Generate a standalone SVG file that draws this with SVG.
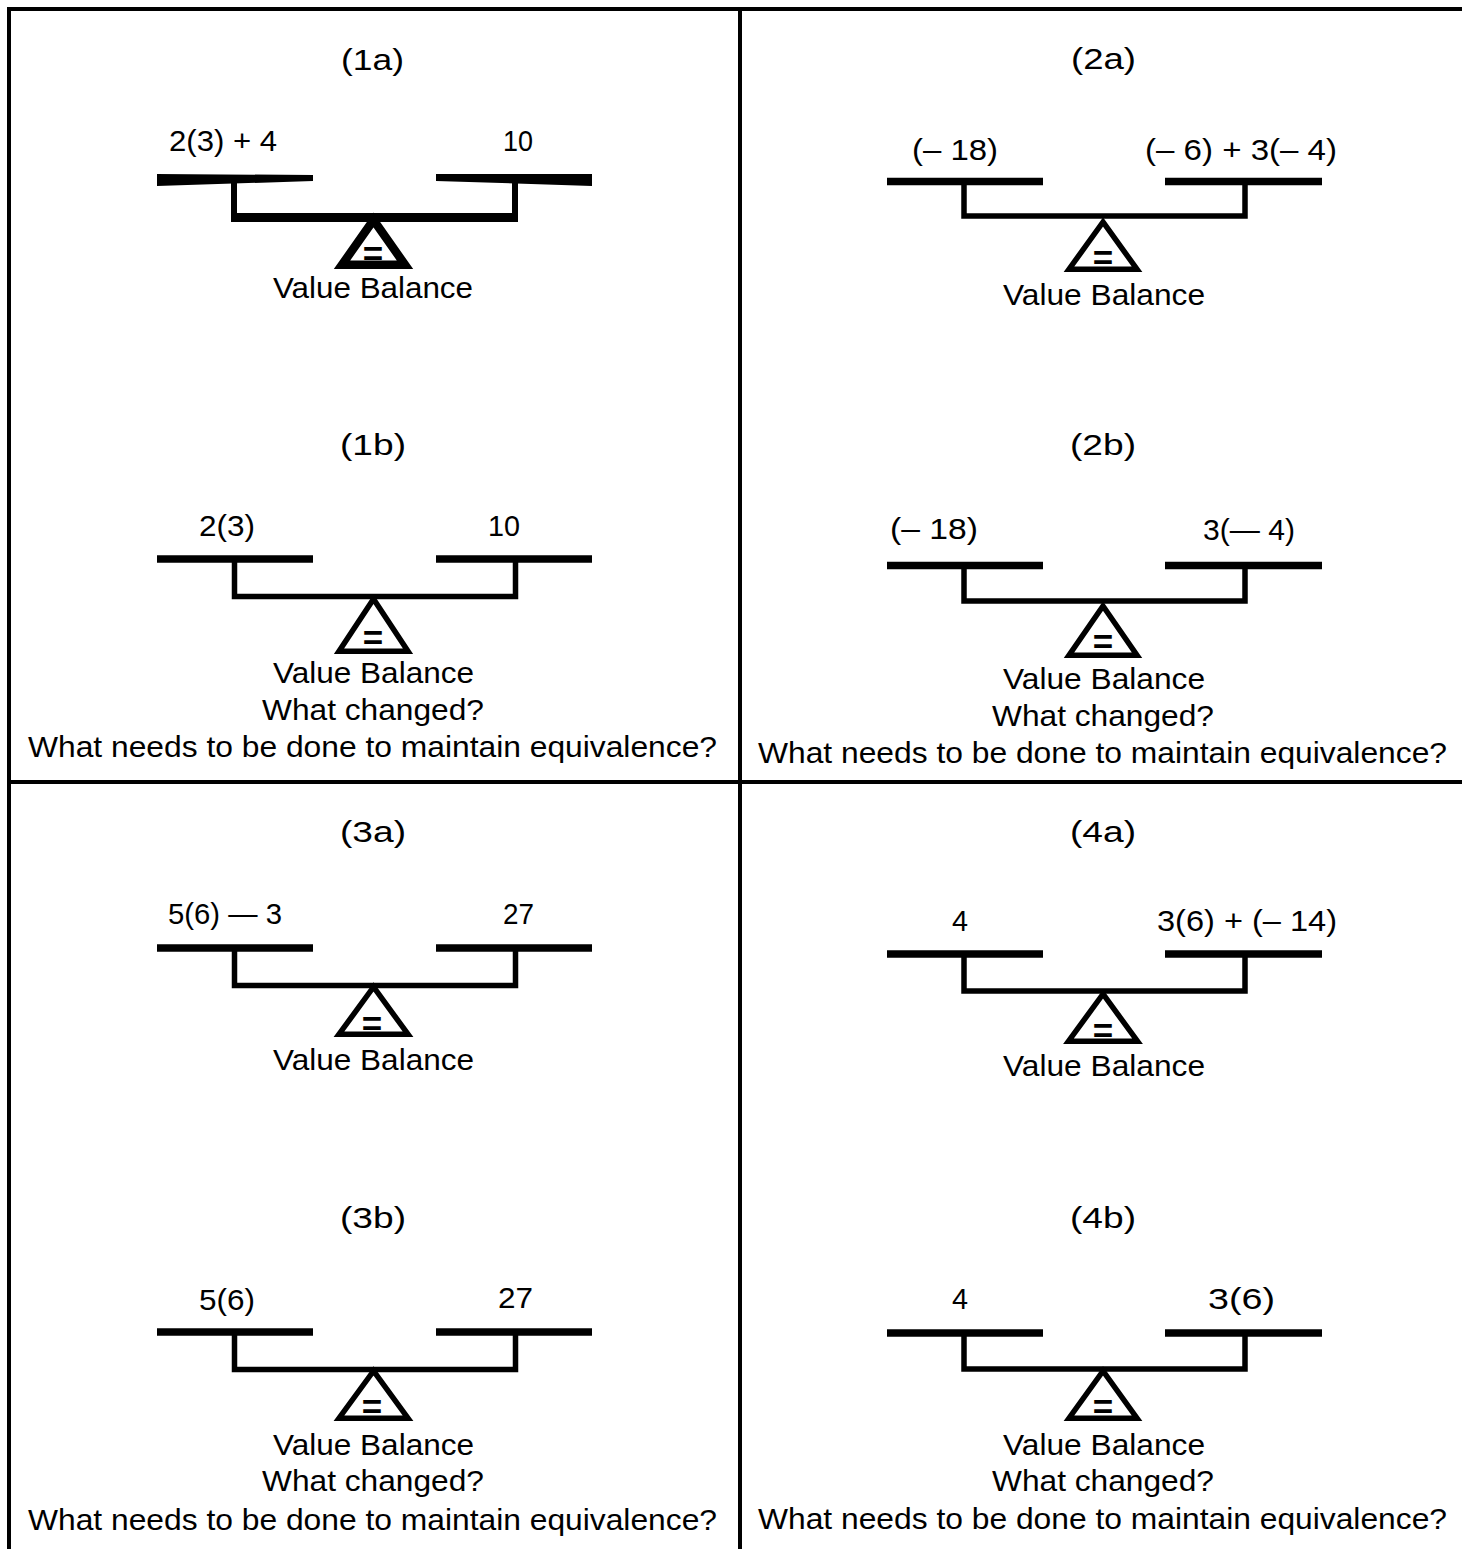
<svg xmlns="http://www.w3.org/2000/svg" width="1462" height="1549" viewBox="0 0 1462 1549">
<style>
text{font-family:"Liberation Sans",Arial,sans-serif;font-size:30px;fill:#000}
.eq{font-weight:bold;font-size:35px;text-anchor:middle}
.pan{stroke:#000;stroke-width:7.5;fill:none}
.arm{stroke:#000;stroke-width:5.5;fill:none;stroke-linejoin:miter}
.tri{stroke:#000;stroke-width:5.5;fill:#fff;stroke-linejoin:miter;stroke-miterlimit:10}
.grid{stroke:#000;stroke-width:4;fill:none}
</style>
<rect width="1462" height="1549" fill="#fff"/>
<g id="grid">
<path class="grid" d="M9 1549 V9 H1462"/>
<path class="grid" d="M740 9 V1549"/>
<path class="grid" d="M9 782 H1462"/>
</g>
<g id="connectors"></g>

<g id="node-1a">
<text x="341" y="70" textLength="63" lengthAdjust="spacingAndGlyphs">(1a)</text>
<text x="169" y="151" textLength="108" lengthAdjust="spacingAndGlyphs">2(3) + 4</text>
<text x="503" y="151" textLength="30" lengthAdjust="spacingAndGlyphs">10</text>
<polygon points="157,174 313,175 313,181 157,186" fill="#000"/>
<polygon points="436,174 592,174 592,186 436,181" fill="#000"/>
<rect x="231" y="178" width="6" height="44" fill="#000"/>
<rect x="512" y="178" width="6" height="44" fill="#000"/>
<rect x="231" y="213" width="287" height="9" fill="#000"/>
<polygon points="373.5,220 342,264.75 405,264.75" fill="#fff" stroke="#000" stroke-width="8.5" stroke-miterlimit="10"/>
<text class="eq" x="373" y="266">=</text>
<text x="273" y="298" textLength="200" lengthAdjust="spacingAndGlyphs">Value Balance</text>
</g>

<g id="node-1b">
<text x="340" y="455" textLength="66" lengthAdjust="spacingAndGlyphs">(1b)</text>
<text x="199" y="536" textLength="56" lengthAdjust="spacingAndGlyphs">2(3)</text>
<text x="488" y="536" textLength="32" lengthAdjust="spacingAndGlyphs">10</text>
<line class="pan" x1="157" y1="559" x2="313" y2="559"/>
<line class="pan" x1="436" y1="559" x2="592" y2="559"/>
<path class="arm" d="M234.5 559 V596.5 H515.5 V559"/>
<polygon class="tri" points="373.5,599 339,651.25 408,651.25"/>
<text class="eq" x="373" y="650">=</text>
<text x="273" y="683" textLength="201" lengthAdjust="spacingAndGlyphs">Value Balance</text>
<text x="262" y="720" textLength="222" lengthAdjust="spacingAndGlyphs">What changed?</text>
<text x="28" y="757" textLength="689" lengthAdjust="spacingAndGlyphs">What needs to be done to maintain equivalence?</text>
</g>

<g id="node-2a">
<text x="1071" y="69" textLength="65" lengthAdjust="spacingAndGlyphs">(2a)</text>
<text x="912" y="160" textLength="86" lengthAdjust="spacingAndGlyphs">(– 18)</text>
<text x="1145" y="160" textLength="192" lengthAdjust="spacingAndGlyphs">(– 6) + 3(– 4)</text>
<line class="pan" x1="887" y1="181.5" x2="1043" y2="181.5"/>
<line class="pan" x1="1165" y1="181.5" x2="1322" y2="181.5"/>
<path class="arm" d="M964 181.5 V216 H1245 V181.5"/>
<polygon class="tri" points="1103,222 1069,269.25 1137,269.25"/>
<text class="eq" x="1103" y="270">=</text>
<text x="1003" y="305" textLength="202" lengthAdjust="spacingAndGlyphs">Value Balance</text>
</g>

<g id="node-2b">
<text x="1070" y="455" textLength="66" lengthAdjust="spacingAndGlyphs">(2b)</text>
<text x="890" y="539" textLength="88" lengthAdjust="spacingAndGlyphs">(– 18)</text>
<text x="1203" y="540" textLength="92" lengthAdjust="spacingAndGlyphs">3(— 4)</text>
<line class="pan" x1="887" y1="565.5" x2="1043" y2="565.5"/>
<line class="pan" x1="1165" y1="565.5" x2="1322" y2="565.5"/>
<path class="arm" d="M964 565.5 V601 H1245 V565.5"/>
<polygon class="tri" points="1103,606 1069,655.25 1137,655.25"/>
<text class="eq" x="1103" y="654">=</text>
<text x="1003" y="689" textLength="202" lengthAdjust="spacingAndGlyphs">Value Balance</text>
<text x="992" y="726" textLength="222" lengthAdjust="spacingAndGlyphs">What changed?</text>
<text x="758" y="763" textLength="689" lengthAdjust="spacingAndGlyphs">What needs to be done to maintain equivalence?</text>
</g>

<g id="node-3a">
<text x="340" y="842" textLength="66" lengthAdjust="spacingAndGlyphs">(3a)</text>
<text x="168" y="924" textLength="114" lengthAdjust="spacingAndGlyphs">5(6) — 3</text>
<text x="503" y="924" textLength="31" lengthAdjust="spacingAndGlyphs">27</text>
<line class="pan" x1="157" y1="948" x2="313" y2="948"/>
<line class="pan" x1="436" y1="948" x2="592" y2="948"/>
<path class="arm" d="M234.5 948 V985.5 H515.5 V948"/>
<polygon class="tri" points="373.5,987 339,1034.25 408,1034.25"/>
<text class="eq" x="372" y="1036">=</text>
<text x="273" y="1070" textLength="201" lengthAdjust="spacingAndGlyphs">Value Balance</text>
</g>

<g id="node-3b">
<text x="340" y="1228" textLength="66" lengthAdjust="spacingAndGlyphs">(3b)</text>
<text x="199" y="1310" textLength="56" lengthAdjust="spacingAndGlyphs">5(6)</text>
<text x="498" y="1308" textLength="35" lengthAdjust="spacingAndGlyphs">27</text>
<line class="pan" x1="157" y1="1332" x2="313" y2="1332"/>
<line class="pan" x1="436" y1="1332" x2="592" y2="1332"/>
<path class="arm" d="M234.5 1332 V1369.5 H515.5 V1332"/>
<polygon class="tri" points="373.5,1371 339,1418.25 408,1418.25"/>
<text class="eq" x="372" y="1419">=</text>
<text x="273" y="1455" textLength="201" lengthAdjust="spacingAndGlyphs">Value Balance</text>
<text x="262" y="1491" textLength="222" lengthAdjust="spacingAndGlyphs">What changed?</text>
<text x="28" y="1530" textLength="689" lengthAdjust="spacingAndGlyphs">What needs to be done to maintain equivalence?</text>
</g>

<g id="node-4a">
<text x="1070" y="842" textLength="66" lengthAdjust="spacingAndGlyphs">(4a)</text>
<text x="952" y="931" textLength="16" lengthAdjust="spacingAndGlyphs">4</text>
<text x="1157" y="931" textLength="180" lengthAdjust="spacingAndGlyphs">3(6) + (– 14)</text>
<line class="pan" x1="887" y1="954" x2="1043" y2="954"/>
<line class="pan" x1="1165" y1="954" x2="1322" y2="954"/>
<path class="arm" d="M964 954 V991 H1245 V954"/>
<polygon class="tri" points="1103,994 1068.5,1041.25 1137.5,1041.25"/>
<text class="eq" x="1103" y="1043">=</text>
<text x="1003" y="1076" textLength="202" lengthAdjust="spacingAndGlyphs">Value Balance</text>
</g>

<g id="node-4b">
<text x="1070" y="1228" textLength="66" lengthAdjust="spacingAndGlyphs">(4b)</text>
<text x="952" y="1309" textLength="16" lengthAdjust="spacingAndGlyphs">4</text>
<text x="1208" y="1309" textLength="67" lengthAdjust="spacingAndGlyphs">3(6)</text>
<line class="pan" x1="887" y1="1333" x2="1043" y2="1333"/>
<line class="pan" x1="1165" y1="1333" x2="1322" y2="1333"/>
<path class="arm" d="M964 1333 V1369 H1245 V1333"/>
<polygon class="tri" points="1103,1371 1069,1418.25 1137,1418.25"/>
<text class="eq" x="1103" y="1419">=</text>
<text x="1003" y="1455" textLength="202" lengthAdjust="spacingAndGlyphs">Value Balance</text>
<text x="992" y="1491" textLength="222" lengthAdjust="spacingAndGlyphs">What changed?</text>
<text x="758" y="1529" textLength="689" lengthAdjust="spacingAndGlyphs">What needs to be done to maintain equivalence?</text>
</g>
</svg>
